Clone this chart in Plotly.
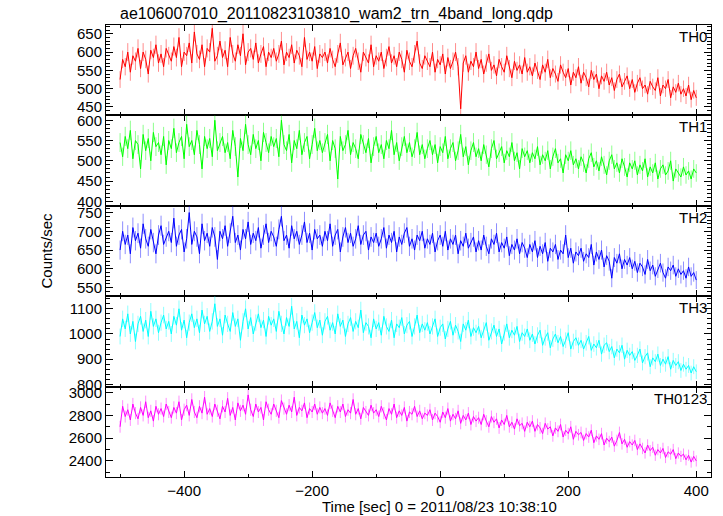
import plotly.graph_objects as go
from plotly.subplots import make_subplots

# Time bins (sec), 0 = 2011/08/23 10:38:10
time_sec = list(range(-500, 401, 4))

th0 = [525, 580, 560, 600, 545, 590, 575, 610, 555, 600, 580, 540, 605, 585, 620, 570, 595, 560, 610, 590,
       575, 615, 585, 640, 560, 600, 590, 625, 570, 655, 595, 580, 620, 560, 610, 600, 665, 575, 590, 630,
       585, 605, 560, 640, 595, 575, 620, 590, 650, 565, 600, 610, 580, 625, 570, 595, 615, 560, 600, 585,
       610, 575, 595, 630, 565, 600, 585, 620, 570, 605, 590, 560, 640, 580, 600, 575, 615, 555, 595, 585,
       600, 570, 610, 580, 560, 595, 625, 565, 585, 600, 555, 590, 610, 575, 545, 600, 585, 570, 620, 560,
       590, 575, 600, 555, 585, 615, 570, 590, 560, 600, 580, 545, 605, 575, 560, 595, 630, 570, 555, 590,
       575, 560, 600, 545, 580, 565, 595, 540, 585, 555, 575, 600, 560, 445, 570, 590, 545, 575, 560, 600,
       555, 580, 540, 570, 595, 550, 565, 535, 580, 560, 545, 590, 555, 530, 575, 550, 565, 540, 585, 545,
       560, 535, 570, 550, 525, 565, 545, 580, 530, 555, 540, 520, 565, 545, 530, 555, 510, 545, 530, 560,
       515, 545, 530, 505, 550, 525, 540, 500, 535, 520, 545, 510, 530, 495, 525, 540, 505, 520, 535, 500,
       525, 490, 515, 530, 500, 510, 485, 520, 505, 495, 530, 480, 510, 500, 525, 475, 505, 490, 515, 485,
       500, 480, 510, 470, 495, 475]

th1 = [545, 510, 560, 530, 575, 505, 550, 540, 480, 565, 525, 555, 500, 570, 535, 545, 515, 560, 490, 550,
       530, 580, 520, 545, 560, 505, 590, 535, 550, 515, 575, 540, 480, 560, 530, 555, 510, 600, 525, 545,
       560, 520, 545, 505, 575, 535, 460, 555, 525, 590, 540, 515, 565, 530, 550, 500, 570, 545, 520, 560,
       535, 555, 510, 600, 540, 525, 565, 495, 550, 530, 575, 515, 545, 560, 505, 540, 580, 525, 550, 520,
       545, 565, 500, 550, 530, 455, 560, 525, 540, 575, 515, 545, 530, 505, 565, 540, 520, 555, 495, 535,
       560, 520, 540, 505, 550, 530, 575, 515, 545, 500, 535, 560, 520, 545, 510, 530, 570, 515, 540, 505,
       530, 550, 515, 540, 495, 535, 520, 560, 505, 530, 545, 500, 525, 565, 510, 535, 490, 525, 545, 510,
       530, 500, 540, 515, 485, 530, 550, 505, 520, 535, 495, 525, 510, 545, 500, 520, 480, 530, 510, 525,
       495, 520, 505, 535, 490, 515, 500, 525, 480, 510, 530, 495, 505, 470, 515, 500, 525, 490, 505, 480,
       510, 495, 470, 505, 520, 485, 500, 475, 510, 490, 465, 500, 515, 480, 495, 470, 505, 485, 460, 495,
       480, 500, 465, 490, 475, 505, 460, 485, 470, 495, 455, 480, 490, 465, 475, 500, 450, 480, 470, 460,
       485, 465, 475, 455, 480, 470]

th2 = [650, 700, 665, 690, 640, 710, 675, 695, 655, 720, 680, 660, 705, 670, 640, 690, 715, 665, 685, 700,
       670, 735, 660, 690, 705, 645, 680, 750, 665, 700, 685, 640, 720, 675, 695, 660, 710, 685, 625, 700,
       680, 715, 660, 695, 740, 670, 690, 650, 705, 680, 725, 665, 695, 675, 710, 655, 690, 720, 670, 700,
       685, 660, 705, 740, 675, 690, 655, 715, 680, 700, 665, 690, 725, 670, 695, 650, 705, 680, 690, 660,
       700, 675, 720, 660, 690, 705, 645, 685, 710, 670, 695, 660, 680, 715, 665, 690, 700, 650, 685, 670,
       695, 660, 680, 710, 655, 690, 670, 700, 645, 685, 665, 695, 710, 660, 680, 650, 690, 675, 700, 655,
       680, 665, 695, 645, 675, 690, 660, 700, 650, 680, 665, 690, 640, 675, 660, 695, 655, 670, 685, 645,
       675, 650, 690, 660, 640, 680, 665, 695, 645, 670, 655, 685, 635, 665, 650, 680, 640, 670, 655, 630,
       665, 645, 675, 630, 660, 640, 670, 620, 655, 645, 665, 625, 650, 640, 690, 630, 655, 615, 645, 635,
       655, 620, 640, 630, 665, 610, 645, 625, 650, 605, 635, 620, 575, 630, 615, 640, 600, 625, 610, 630,
       600, 620, 590, 615, 605, 585, 625, 595, 610, 580, 600, 615, 590, 575, 605, 595, 610, 580, 600, 585,
       595, 575, 605, 580, 590, 570]

th3 = [990, 1060, 1020, 1080, 1000, 1050, 970, 1040, 1070, 1010, 1055, 990, 1090, 1030, 1060, 1005, 1045, 1075, 1020, 1050,
       1000, 1070, 1035, 1100, 1015, 1055, 985, 1045, 1080, 1025, 1060, 1005, 1095, 1040, 1070, 1010, 1050, 1120, 1030, 1060,
       995, 1075, 1040, 1010, 1085, 1030, 1060, 975, 1050, 1100, 1020, 1065, 1000, 1045, 1080, 1025, 1055, 990, 1070, 1035,
       1060, 1010, 1090, 1040, 1000, 1065, 1030, 1110, 1020, 1050, 985, 1075, 1035, 1060, 1005, 1045, 1085, 1025, 1055, 995,
       1050, 1070, 1015, 1045, 1000, 1080, 1030, 1055, 990, 1040, 1065, 1010, 1050, 1025, 1095, 1005, 1045, 1030, 985, 1060,
       1020, 1045, 995, 1070, 1030, 1010, 1055, 985, 1040, 1025, 1065, 1000, 1035, 1050, 990, 1030, 1075, 1005, 1040, 1015,
       1045, 1000, 1030, 1060, 990, 1025, 1040, 980, 1020, 1050, 995, 1035, 1010, 970, 1040, 1015, 1055, 990, 1025, 1005,
       1030, 985, 1015, 1045, 975, 1010, 1035, 990, 1020, 960, 1005, 1040, 985, 1015, 995, 1030, 970, 1005, 990, 1020,
       975, 1000, 960, 995, 1015, 955, 985, 1005, 945, 980, 1000, 965, 990, 950, 975, 1005, 940, 970, 985, 955,
       975, 940, 965, 990, 935, 960, 945, 975, 920, 955, 965, 930, 950, 905, 940, 925, 955, 900, 935, 915,
       930, 895, 915, 940, 885, 910, 925, 870, 905, 890, 920, 875, 900, 880, 910, 860, 895, 875, 890, 855,
       880, 860, 875, 845, 870, 850]

th0123 = [2700, 2880, 2790, 2850, 2760, 2900, 2820, 2770, 2870, 2800, 2920, 2780, 2840, 2750, 2880, 2810, 2860, 2790, 2900, 2830,
          2780, 2870, 2820, 2920, 2760, 2850, 2890, 2800, 2940, 2830, 2780, 2880, 2820, 2960, 2810, 2860, 2790, 2900, 2840, 2770,
          2880, 2830, 2950, 2800, 2870, 2760, 2910, 2840, 2890, 2810, 2980, 2850, 2790, 2900, 2830, 2870, 2760, 2920, 2850, 2810,
          2900, 2840, 2780, 2930, 2860, 2810, 2890, 2830, 2960, 2800, 2870, 2840, 2910, 2780, 2860, 2830, 2900, 2810, 2870, 2820,
          2860, 2800, 2910, 2840, 2780, 2880, 2830, 2900, 2790, 2850, 2820, 2940, 2810, 2860, 2770, 2870, 2830, 2800, 2890, 2820,
          2850, 2790, 2880, 2820, 2760, 2860, 2810, 2900, 2780, 2840, 2800, 2870, 2750, 2830, 2810, 2880, 2790, 2840, 2770, 2820,
          2800, 2850, 2760, 2820, 2790, 2740, 2830, 2780, 2860, 2750, 2810, 2770, 2840, 2730, 2800, 2760, 2820, 2720, 2790, 2750,
          2780, 2720, 2810, 2750, 2700, 2790, 2740, 2770, 2690, 2760, 2720, 2800, 2700, 2740, 2680, 2770, 2710, 2730, 2660, 2740,
          2700, 2750, 2660, 2720, 2690, 2640, 2730, 2680, 2700, 2620, 2690, 2660, 2720, 2610, 2670, 2640, 2700, 2590, 2660, 2630,
          2650, 2580, 2640, 2610, 2670, 2560, 2620, 2590, 2640, 2540, 2600, 2570, 2610, 2530, 2580, 2650, 2550, 2590, 2520, 2570,
          2540, 2580, 2500, 2550, 2510, 2470, 2540, 2490, 2520, 2450, 2500, 2470, 2510, 2430, 2480, 2460, 2500, 2420, 2470, 2440,
          2460, 2410, 2450, 2390, 2440, 2400]

band_names = ["TH0", "TH1", "TH2", "TH3", "TH0123"]
series = [th0, th1, th2, th3, th0123]

colors = ["#ff0000", "#00ff00", "#0000ff", "#00ffff", "#ff00ff"]
err_colors = ["rgba(255,0,0,0.45)", "rgba(0,255,0,0.45)", "rgba(0,0,255,0.45)",
              "rgba(0,255,255,0.45)", "rgba(255,0,255,0.45)"]
y_ranges = [[427, 674], [389, 612], [527, 768], [791, 1150], [2259, 3053]]
y_dticks = [50, 50, 50, 100, 200]
y_minor = [10, 10, 10, 20, 100]

FONT = "Liberation Sans, Arial, Helvetica, sans-serif"

fig = make_subplots(rows=5, cols=1, shared_xaxes=True, vertical_spacing=0)

for i, (name, vals) in enumerate(zip(band_names, series)):
    errs = [v ** 0.5 for v in vals]
    fig.add_trace(go.Scatter(
        x=time_sec, y=vals, mode="lines", name=name,
        line=dict(color=colors[i], width=1),
        error_y=dict(type="data", array=errs, visible=True, thickness=1, width=0, color=err_colors[i]),
        showlegend=False,
    ), row=i + 1, col=1)
    fig.update_yaxes(range=y_ranges[i], dtick=y_dticks[i], tick0=0,
                     ticks="inside", ticklen=7, tickwidth=1, tickcolor="black",
                     minor=dict(ticks="inside", dtick=y_minor[i], tick0=0, ticklen=4, tickcolor="black"),
                     showline=True, linecolor="black", linewidth=1, mirror="ticks",
                     showgrid=False, zeroline=False,
                     tickfont=dict(size=15, color="black", family=FONT),
                     row=i + 1, col=1)
    fig.update_xaxes(range=[-522, 423], dtick=200, tick0=0,
                     ticks="inside", ticklen=6, tickwidth=1, tickcolor="black",
                     minor=dict(ticks="inside", dtick=100, tick0=0, ticklen=3, tickcolor="black"),
                     showline=True, linecolor="black", linewidth=1, mirror="ticks",
                     showgrid=False, zeroline=False,
                     tickfont=dict(size=15, color="black", family=FONT),
                     row=i + 1, col=1)
    xd = "x domain" if i == 0 else f"x{i + 1} domain"
    yd = "y domain" if i == 0 else f"y{i + 1} domain"
    fig.add_annotation(text=name, xref=xd, yref=yd, x=0.997, y=0.99,
                       xanchor="right", yanchor="top", showarrow=False,
                       font=dict(size=15, color="black", family=FONT))

fig.add_annotation(text="Counts/sec", xref="paper", yref="paper", x=-0.1, y=0.5,
                   textangle=-90, xanchor="center", yanchor="middle", showarrow=False,
                   font=dict(size=15, color="black", family=FONT))
fig.add_annotation(text="Time [sec] 0 = 2011/08/23 10:38:10", xref="paper", yref="paper",
                   x=0.552, y=-0.066, xanchor="center", yanchor="middle", showarrow=False,
                   font=dict(size=15, color="black", family=FONT))

fig.update_layout(
    width=723, height=516,
    margin=dict(l=106, r=12, t=25, b=39),
    paper_bgcolor="white", plot_bgcolor="white",
    title=dict(text="ae106007010_20110823103810_wam2_trn_4band_long.qdp",
               xref="container", yref="container", x=0.166, y=0.975,
               xanchor="left", yanchor="middle",
               font=dict(size=16, color="black", family=FONT)),
    font=dict(family=FONT, color="black"),
)

fig.write_html("out.html",
               config={"displayModeBar": False},
               post_script="document.body.style.margin='0';document.body.style.padding='0';"
                           "document.body.style.overflow='hidden';")
